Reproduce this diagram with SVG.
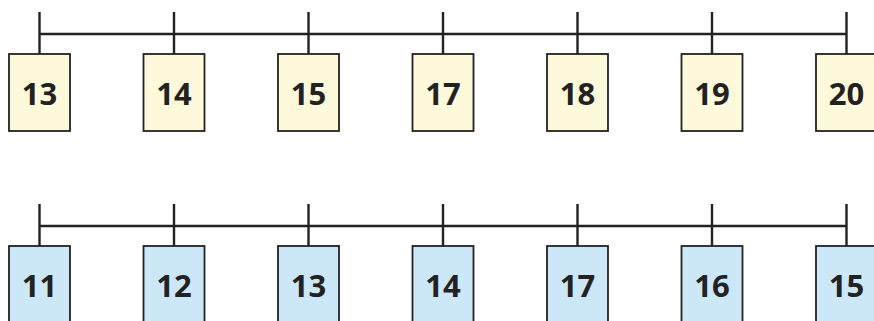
<svg xmlns="http://www.w3.org/2000/svg" width="874" height="321" viewBox="0 0 874 321">
<style>
.ln{stroke:#222;stroke-width:2.4;fill:none}
.y{fill:#FFF9DC;stroke:#222;stroke-width:1.8}
.b{fill:#CCE8F8;stroke:#222;stroke-width:1.8}
text{font-family:"Open Sans","DejaVu Sans",sans-serif;font-weight:bold;font-size:31px;fill:#222;text-anchor:middle}
</style>
<g id="connectors">
<path class="ln" d="M39.5,34H846.5M39.5,12V54M174,12V54M308.5,12V54M443,12V54M577.5,12V54M712,12V54M846.5,12V54"/>
<path class="ln" d="M39.5,226H846.5M39.5,204V246M174,204V246M308.5,204V246M443,204V246M577.5,204V246M712,204V246M846.5,204V246"/>
</g>
<g id="t0"><rect class="y" x="9" y="54" width="61" height="77"/><text x="39.5" y="105">13</text></g>
<g id="t1"><rect class="y" x="143.5" y="54" width="61" height="77"/><text x="174" y="105">14</text></g>
<g id="t2"><rect class="y" x="278" y="54" width="61" height="77"/><text x="308.5" y="105">15</text></g>
<g id="t3"><rect class="y" x="412.5" y="54" width="61" height="77"/><text x="443" y="105">17</text></g>
<g id="t4"><rect class="y" x="547" y="54" width="61" height="77"/><text x="577.5" y="105">18</text></g>
<g id="t5"><rect class="y" x="681.5" y="54" width="61" height="77"/><text x="712" y="105">19</text></g>
<g id="t6"><rect class="y" x="816" y="54" width="61" height="77"/><text x="846.5" y="105">20</text></g>
<g id="b0"><rect class="b" x="9" y="246" width="61" height="77"/><text x="39.5" y="297">11</text></g>
<g id="b1"><rect class="b" x="143.5" y="246" width="61" height="77"/><text x="174" y="297">12</text></g>
<g id="b2"><rect class="b" x="278" y="246" width="61" height="77"/><text x="308.5" y="297">13</text></g>
<g id="b3"><rect class="b" x="412.5" y="246" width="61" height="77"/><text x="443" y="297">14</text></g>
<g id="b4"><rect class="b" x="547" y="246" width="61" height="77"/><text x="577.5" y="297">17</text></g>
<g id="b5"><rect class="b" x="681.5" y="246" width="61" height="77"/><text x="712" y="297">16</text></g>
<g id="b6"><rect class="b" x="816" y="246" width="61" height="77"/><text x="846.5" y="297">15</text></g>
</svg>
